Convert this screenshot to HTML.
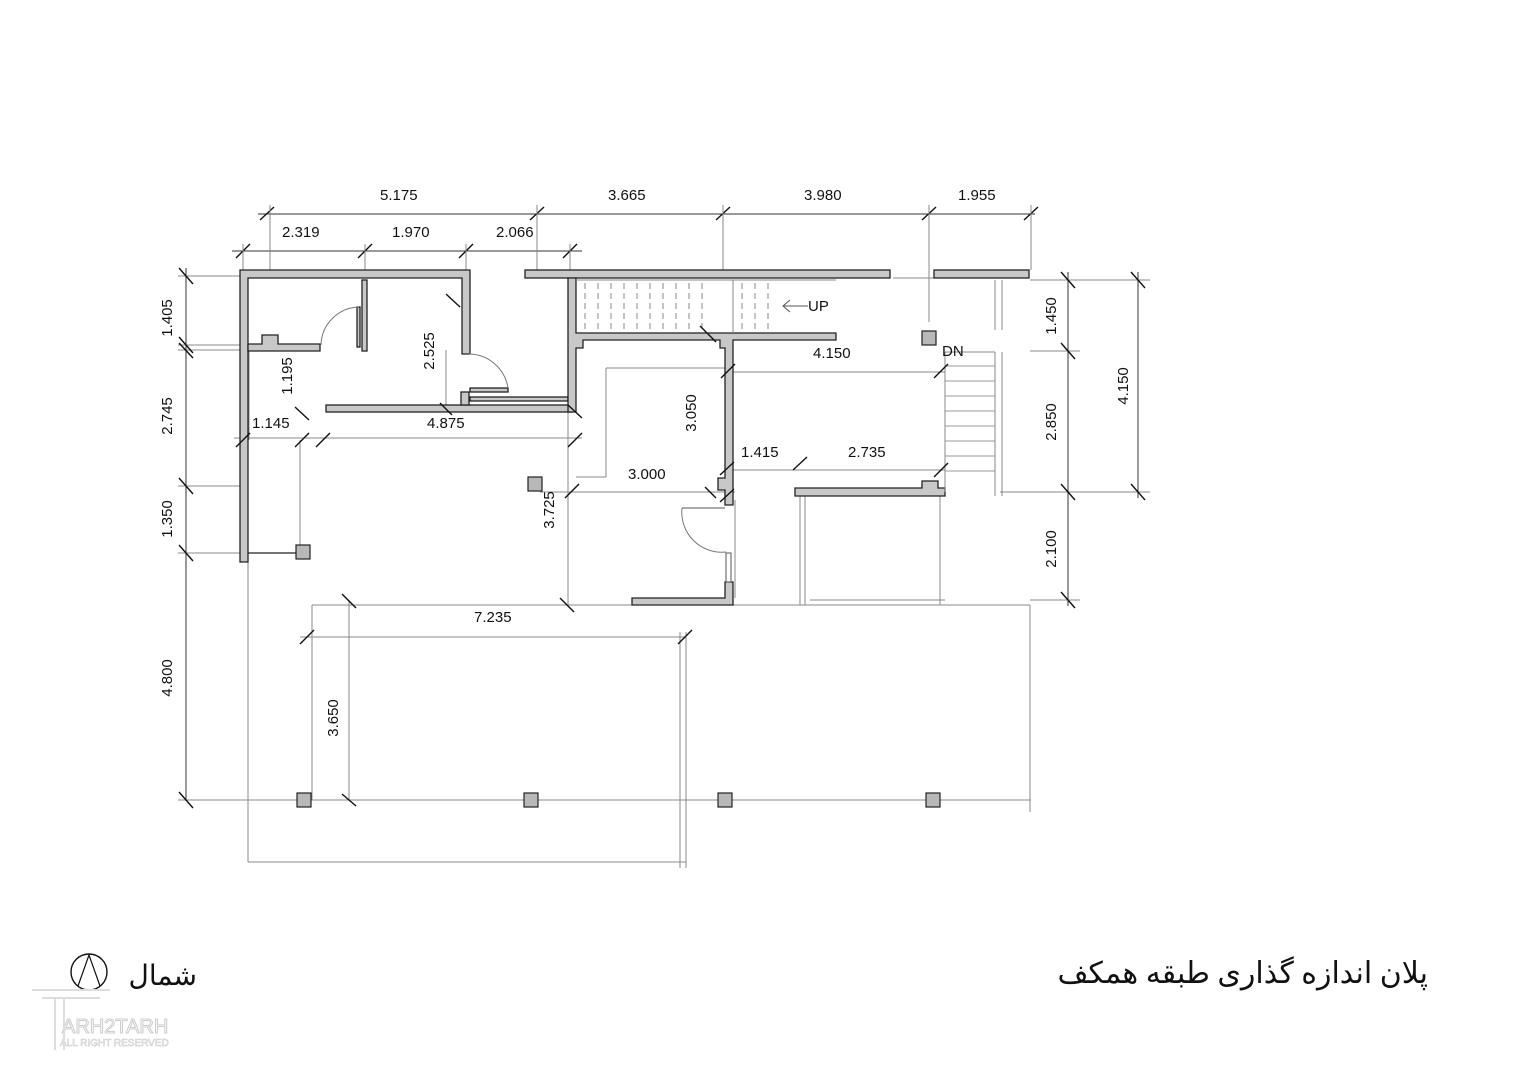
<!DOCTYPE html>
<html><head><meta charset="utf-8"><style>
html,body{margin:0;padding:0;background:#fff;}
svg{display:block}
text{font-family:"Liberation Sans",sans-serif;font-size:15px;fill:#111}
.w{fill:#c8c8c8;stroke:#222;stroke-width:1.3}
.t{stroke:#888;stroke-width:1;fill:none}
.d{stroke:#333;stroke-width:1;fill:none}
.k{stroke:#111;stroke-width:1.4}
.c{fill:#b8b8b8;stroke:#222;stroke-width:1.2}
</style></head><body>
<svg width="1528" height="1080" viewBox="0 0 1528 1080" xmlns="http://www.w3.org/2000/svg">
<rect width="1528" height="1080" fill="#fff"/>
<line class="d" x1="258" y1="214" x2="1035" y2="214"/>
<line class="d" x1="232" y1="251" x2="582" y2="251"/>
<g class="k">
<line x1="260" y1="220" x2="274" y2="207"/><line x1="530" y1="220" x2="544" y2="207"/>
<line x1="716" y1="220" x2="730" y2="207"/><line x1="922" y1="220" x2="936" y2="207"/>
<line x1="1024" y1="220" x2="1038" y2="207"/>
<line x1="236" y1="258" x2="250" y2="244"/><line x1="358" y1="258" x2="372" y2="244"/>
<line x1="459" y1="258" x2="473" y2="244"/><line x1="563" y1="258" x2="577" y2="244"/>
</g>
<g class="t">
<line x1="270" y1="205" x2="270" y2="270"/><line x1="537" y1="205" x2="537" y2="270"/>
<line x1="723" y1="205" x2="723" y2="270"/><line x1="929" y1="205" x2="929" y2="322"/>
<line x1="1031" y1="205" x2="1031" y2="270"/>
<line x1="243" y1="244" x2="243" y2="270"/><line x1="365" y1="244" x2="365" y2="270"/>
<line x1="466" y1="244" x2="466" y2="270"/><line x1="570" y1="244" x2="570" y2="270"/>
</g>
<text x="380" y="200">5.175</text><text x="608" y="200">3.665</text>
<text x="804" y="200">3.980</text><text x="958" y="200">1.955</text>
<text x="282" y="237">2.319</text><text x="392" y="237">1.970</text><text x="496" y="237">2.066</text>
<line class="d" x1="186" y1="268" x2="186" y2="800"/>
<g class="t">
<line x1="178" y1="276" x2="240" y2="276"/><line x1="178" y1="345" x2="240" y2="345"/>
<line x1="178" y1="350" x2="240" y2="350"/><line x1="178" y1="486" x2="240" y2="486"/>
<line x1="178" y1="553" x2="240" y2="553"/><line x1="178" y1="800" x2="300" y2="800"/>
</g>
<g class="k">
<line x1="179" y1="268" x2="193" y2="284"/><line x1="179" y1="337" x2="193" y2="353"/>
<line x1="179" y1="343" x2="193" y2="358"/><line x1="179" y1="478" x2="193" y2="494"/>
<line x1="179" y1="545" x2="193" y2="561"/><line x1="179" y1="792" x2="193" y2="808"/>
</g>
<text transform="translate(172,318) rotate(-90)" text-anchor="middle">1.405</text>
<text transform="translate(172,416) rotate(-90)" text-anchor="middle">2.745</text>
<text transform="translate(172,519) rotate(-90)" text-anchor="middle">1.350</text>
<text transform="translate(172,678) rotate(-90)" text-anchor="middle">4.800</text>
<line class="d" x1="1068" y1="272" x2="1068" y2="606"/>
<line class="d" x1="1138" y1="272" x2="1138" y2="498"/>
<g class="t">
<line x1="1030" y1="280" x2="1150" y2="280"/><line x1="1030" y1="351" x2="1080" y2="351"/>
<line x1="1000" y1="492" x2="1150" y2="492"/><line x1="1030" y1="600" x2="1080" y2="600"/>
</g>
<g class="k">
<line x1="1061" y1="272" x2="1075" y2="288"/><line x1="1061" y1="343" x2="1075" y2="359"/>
<line x1="1061" y1="484" x2="1075" y2="500"/><line x1="1061" y1="592" x2="1075" y2="608"/>
<line x1="1131" y1="272" x2="1145" y2="288"/><line x1="1131" y1="484" x2="1145" y2="500"/>
</g>
<text transform="translate(1056,316) rotate(-90)" text-anchor="middle">1.450</text>
<text transform="translate(1056,422) rotate(-90)" text-anchor="middle">2.850</text>
<text transform="translate(1056,549) rotate(-90)" text-anchor="middle">2.100</text>
<text transform="translate(1128,386) rotate(-90)" text-anchor="middle">4.150</text>
<g class="t">
<line x1="312" y1="605" x2="1030" y2="605"/>
<line x1="312" y1="605" x2="312" y2="800"/>
<line x1="300" y1="800" x2="1031" y2="800"/>
<line x1="248" y1="562" x2="248" y2="862"/>
<line x1="248" y1="862" x2="686" y2="862"/>
<line x1="680" y1="632" x2="680" y2="868"/><line x1="686" y1="632" x2="686" y2="868"/>
<line x1="1030" y1="605" x2="1030" y2="812"/>
<line x1="300" y1="637" x2="686" y2="637"/>
<line x1="349" y1="600" x2="349" y2="800"/>
<line x1="300" y1="440" x2="300" y2="548"/>
<line x1="234" y1="438" x2="582" y2="438"/>
<line x1="568" y1="412" x2="568" y2="605"/>
<line x1="540" y1="492" x2="735" y2="492"/>
<line x1="606" y1="368" x2="606" y2="477"/><line x1="576" y1="477" x2="606" y2="477"/>
<line x1="606" y1="368" x2="727" y2="368"/>
<line x1="733" y1="372" x2="945" y2="372"/>
<line x1="733" y1="470" x2="945" y2="470"/>
<line x1="800" y1="496" x2="800" y2="605"/><line x1="805" y1="496" x2="805" y2="605"/>
<line x1="940" y1="496" x2="940" y2="605"/>
<line x1="810" y1="600" x2="945" y2="600"/>
<line x1="735" y1="500" x2="735" y2="598"/>
<line x1="893" y1="278" x2="934" y2="278"/>
<line x1="249" y1="351" x2="249" y2="440"/>
<line x1="446" y1="350" x2="446" y2="412"/>
</g>
<text x="474" y="622">7.235</text>
<text transform="translate(338,718) rotate(-90)" text-anchor="middle">3.650</text>
<g class="k">
<line x1="342" y1="594" x2="356" y2="608"/><line x1="560" y1="598" x2="574" y2="612"/>
<line x1="300" y1="644" x2="314" y2="630"/><line x1="678" y1="644" x2="692" y2="630"/>
<line x1="342" y1="794" x2="356" y2="806"/>
</g>
<path class="w" d="M240,270 H470 V354 H462 V278 H248 V562 H240 Z"/>
<path class="w" d="M248,344 H262 V335 H278 V344 H320 V351 H248 Z"/>
<rect class="w" x="362" y="280" width="5" height="71"/>
<rect class="w" x="357" y="307" width="3" height="40"/>
<rect class="w" x="326" y="405" width="246" height="7"/>
<rect class="w" x="461" y="392" width="8" height="13"/>
<rect class="w" x="470" y="388" width="38" height="4"/>
<rect class="w" x="470" y="397" width="98" height="4"/>
<rect class="w" x="525" y="270" width="365" height="8"/>
<rect class="w" x="934" y="270" width="95" height="8"/>
<path class="w" d="M568,278 H576 V333 H836 V340 H733 V505 H725 V490 H718 V478 H725 V348 H720 V340 H583 V348 H576 V412 H568 Z"/>
<path class="w" d="M795,488 H922 V481 H938 V488 H945 V496 H795 Z"/>
<path class="w" d="M632,598 H725 V582 H733 V605 H632 Z"/>
<g class="t">
<line x1="576" y1="280" x2="836" y2="280" />
<line x1="733" y1="280" x2="733" y2="333"/>
<line x1="995" y1="280" x2="995" y2="330"/><line x1="1002" y1="280" x2="1002" y2="330"/>
<line x1="995" y1="352" x2="995" y2="496"/><line x1="1002" y1="352" x2="1002" y2="496"/>
<line x1="945" y1="352" x2="995" y2="352"/>
<line x1="945" y1="352" x2="945" y2="492"/>
</g>
<g stroke="#888" stroke-width="1" stroke-dasharray="6,4">
<line x1="585" y1="283" x2="585" y2="331"/><line x1="598" y1="283" x2="598" y2="331"/>
<line x1="611" y1="283" x2="611" y2="331"/><line x1="624" y1="283" x2="624" y2="331"/>
<line x1="637" y1="283" x2="637" y2="331"/><line x1="650" y1="283" x2="650" y2="331"/>
<line x1="663" y1="283" x2="663" y2="331"/><line x1="676" y1="283" x2="676" y2="331"/>
<line x1="689" y1="283" x2="689" y2="331"/><line x1="702" y1="283" x2="702" y2="331"/>
<line x1="742" y1="283" x2="742" y2="331"/><line x1="755" y1="283" x2="755" y2="331"/>
<line x1="768" y1="283" x2="768" y2="331"/>
</g>
<g stroke="#999" stroke-width="1">
<line x1="945" y1="366" x2="995" y2="366"/><line x1="945" y1="381" x2="995" y2="381"/>
<line x1="945" y1="396" x2="995" y2="396"/><line x1="945" y1="411" x2="995" y2="411"/>
<line x1="945" y1="426" x2="995" y2="426"/><line x1="945" y1="441" x2="995" y2="441"/>
<line x1="945" y1="456" x2="995" y2="456"/><line x1="945" y1="471" x2="995" y2="471"/>
</g>
<path d="M784,306 H808 M790,300 L783,306 L790,312" stroke="#555" fill="none"/>
<text x="808" y="311">UP</text>
<text x="942" y="356">DN</text>
<path d="M321,345 A39,39 0 0 1 359,307" stroke="#777" fill="none"/>
<path d="M469,354 A40,40 0 0 1 508,388" stroke="#777" fill="none"/>
<path d="M682,508 A40,40 0 0 0 726,552" stroke="#777" fill="none"/>
<line x1="682" y1="508" x2="725" y2="508" stroke="#555"/>
<rect x="726" y="553" width="5" height="29" fill="#fff" stroke="#555"/>
<text transform="translate(434,351) rotate(-90)" text-anchor="middle">2.525</text>
<text transform="translate(292,376) rotate(-90)" text-anchor="middle">1.195</text>
<text x="252" y="428">1.145</text><text x="427" y="428">4.875</text>
<text transform="translate(696,413) rotate(-90)" text-anchor="middle">3.050</text>
<text transform="translate(554,510) rotate(-90)" text-anchor="middle">3.725</text>
<text x="628" y="479">3.000</text><text x="741" y="457">1.415</text>
<text x="848" y="457">2.735</text><text x="813" y="358">4.150</text>
<g class="k">
<line x1="440" y1="403" x2="452" y2="415"/><line x1="295" y1="407" x2="309" y2="420"/>
<line x1="295" y1="447" x2="309" y2="433"/><line x1="316" y1="447" x2="330" y2="433"/>
<line x1="236" y1="447" x2="250" y2="433"/><line x1="568" y1="405" x2="582" y2="418"/>
<line x1="568" y1="447" x2="582" y2="433"/><line x1="565" y1="498" x2="579" y2="484"/>
<line x1="700" y1="326" x2="716" y2="342"/><line x1="721" y1="378" x2="735" y2="364"/>
<line x1="720" y1="475" x2="734" y2="462"/><line x1="720" y1="502" x2="734" y2="489"/>
<line x1="705" y1="487" x2="716" y2="498"/><line x1="793" y1="470" x2="807" y2="457"/>
<line x1="934" y1="378" x2="948" y2="364"/><line x1="934" y1="477" x2="948" y2="463"/>
<line x1="446" y1="294" x2="460" y2="307"/>
</g>
<g class="c">
<rect x="296" y="545" width="14" height="14"/><rect x="528" y="477" width="14" height="14"/>
<rect x="922" y="331" width="14" height="14"/>
<rect x="297" y="793" width="14" height="14"/><rect x="524" y="793" width="14" height="14"/>
<rect x="718" y="793" width="14" height="14"/><rect x="926" y="793" width="14" height="14"/>
</g>
<line x1="248" y1="553" x2="296" y2="553" stroke="#222" stroke-width="1.3"/>
<text x="1428" y="983" text-anchor="end" style="font-family:'Liberation Serif','DejaVu Sans',serif;font-size:30px">پلان اندازه گذاری طبقه همکف</text>
<text x="197" y="985" text-anchor="end" style="font-family:'Liberation Serif','DejaVu Sans',serif;font-size:28px">شمال</text>
<circle cx="89" cy="972" r="18" fill="none" stroke="#111" stroke-width="1.4"/>
<path d="M78,986 L89,955 L100,986" fill="none" stroke="#111" stroke-width="1.2"/>
<text x="62" y="1033" style="font-size:20px;fill:#fff;stroke:#ccc;stroke-width:1">ARH2TARH</text>
<text x="60" y="1046" style="font-size:10px;fill:#fff;stroke:#ccc;stroke-width:0.6">ALL RIGHT RESERVED</text>
<path d="M32,990 H110 M42,998 H100 M55,998 V1050 M64,998 V1050" stroke="#ddd" stroke-width="2" fill="none"/>
</svg>
</body></html>
